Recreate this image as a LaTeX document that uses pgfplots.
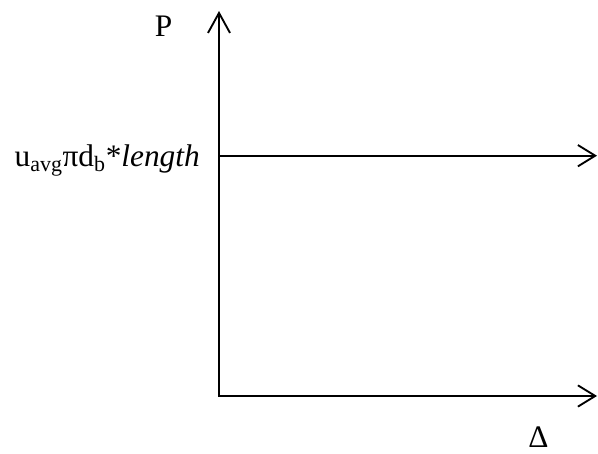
\documentclass[border=0pt]{standalone}
\usepackage{pgfplots}
\pgfplotsset{compat=1.18}
\usepackage{fontspec}
\setmainfont{Liberation Serif}
\usetikzlibrary{arrows.meta}
\begin{document}
\begin{tikzpicture}
\begin{axis}[
  x=0.75pt, y=0.75pt, scale only axis,
  xmin=0, xmax=598, ymin=0, ymax=453,
  hide axis, clip=false,
  at={(0,0)}, anchor=origin,
]
\addplot[black, line width=1.4pt, line join=miter,
  {Straight Barb[length=15pt,width=16.5pt,line width=1.4pt]}-{Straight Barb[length=13pt,width=16pt,line width=1.4pt]}]
  coordinates {(219,442) (219,57) (597,57)};
\addplot[black, line width=1.4pt,
  -{Straight Barb[length=13pt,width=16pt,line width=1.4pt]}]
  coordinates {(219,297.3) (597,297.3)};
\node[font=\fontsize{23.5}{28}\selectfont, anchor=base, inner sep=0pt] at (axis cs:163.5,416.5) {P};
\node[font=\fontsize{23.5}{28}\selectfont, anchor=base, inner sep=0pt] at (axis cs:538.5,6) {Δ};
\node[font=\fontsize{23.5}{28}\selectfont, anchor=base east, inner sep=0pt]
  at (axis cs:200,286) {u\textsubscript{avg}πd\textsubscript{b}*\textit{length}};
\end{axis}
\pgfresetboundingbox
\path (0,0) rectangle (448.5pt,339.75pt);
\end{tikzpicture}
\end{document}
